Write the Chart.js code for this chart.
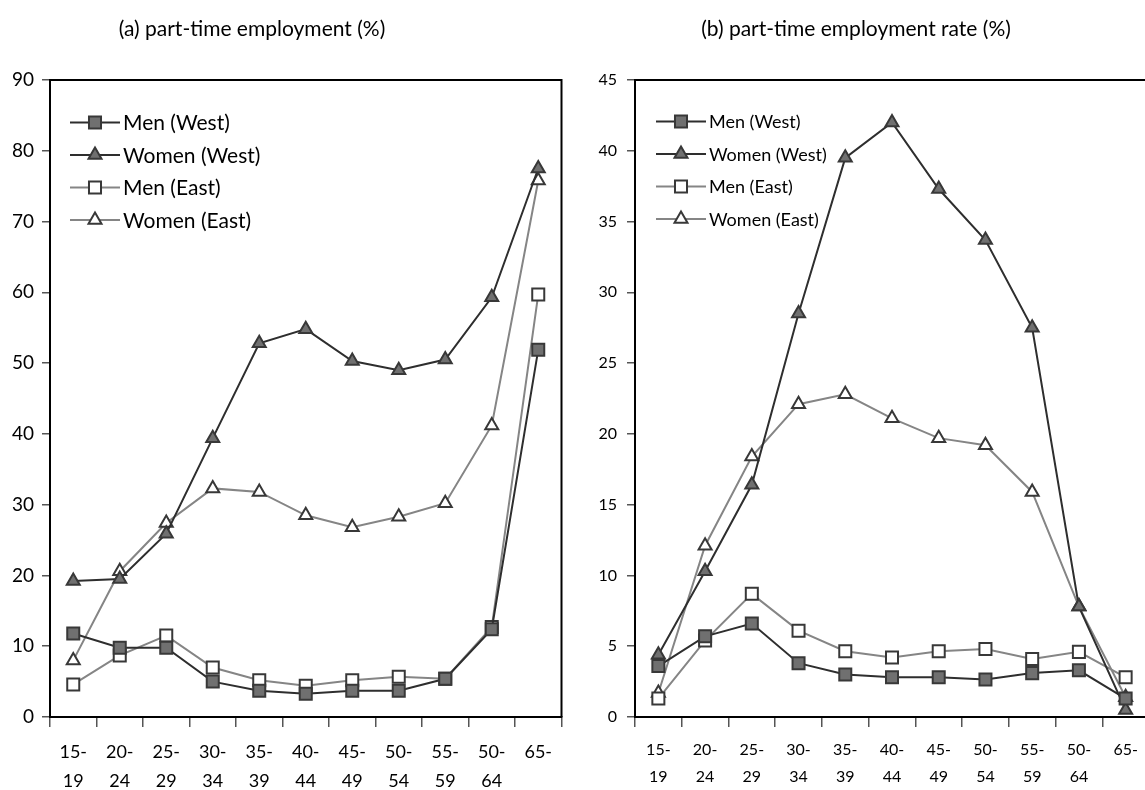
<!DOCTYPE html>
<html><head><meta charset="utf-8">
<script src="https://cdn.jsdelivr.net/npm/chart.js@4/dist/chart.umd.min.js"></script>
<style>
html,body{margin:0;padding:0;width:1145px;height:790px;overflow:hidden;background:#fff;}
#wrapA{position:absolute;left:0;top:0;width:572px;height:790px;}
#wrapB{position:absolute;left:572px;top:0;width:588px;height:790px;}
.title{position:absolute;top:15px;line-height:26px;font-family:Lato, sans-serif;color:#000;white-space:nowrap;transform:translateX(-50%);}
</style></head><body>
<div id="wrapA"><canvas id="cA" width="572" height="790"></canvas></div>
<div id="wrapB"><canvas id="cB" width="588" height="790"></canvas></div>
<div class="title" style="left:252px;font-size:21px">(a) part-time employment (%)</div>
<div class="title" style="left:856px;font-size:21px">(b) part-time employment rate (%)</div>
<script>
// ---- data ----
const ageGroups = [['15-','19'],['20-','24'],['25-','29'],['30-','34'],['35-','39'],['40-','44'],['45-','49'],['50-','54'],['55-','59'],['50-','64'],['65-']];
const seriesLabels = ['Men (West)','Women (West)','Men (East)','Women (East)'];

// (a) part-time employment (%)
const shareMenWest   = [11.8, 9.8, 9.8, 5.0, 3.7, 3.3, 3.7, 3.7, 5.4, 12.4, 51.9];
const shareWomenWest = [19.2, 19.5, 25.9, 39.4, 52.8, 54.8, 50.3, 49.0, 50.5, 59.3, 77.5];
const shareMenEast   = [4.6, 8.7, 11.5, 7.0, 5.2, 4.4, 5.2, 5.7, 5.4, 12.7, 59.7];
const shareWomenEast = [8.0, 20.6, 27.4, 32.3, 31.8, 28.5, 26.8, 28.3, 30.2, 41.2, 75.8];

// (b) part-time employment rate (%)
const rateMenWest   = [3.6, 5.7, 6.6, 3.8, 3.0, 2.8, 2.8, 2.65, 3.1, 3.3, 1.3];
const rateWomenWest = [4.4, 10.3, 16.4, 28.5, 39.5, 42.0, 37.3, 33.7, 27.5, 7.8, 0.5];
const rateMenEast   = [1.3, 5.4, 8.7, 6.1, 4.65, 4.2, 4.65, 4.8, 4.1, 4.6, 2.8];
const rateWomenEast = [1.7, 12.1, 18.4, 22.1, 22.8, 21.1, 19.7, 19.2, 15.9, 7.8, 1.4];

const yTicksA = {min:0, max:90, step:10};
const yTicksB = {min:0, max:45, step:5};

// ---- styles ----
const DARK = '#2e2e2e', GRAY = '#858585', FILL = '#707070', EDGE = '#383838';
const seriesStyle = [
  {line:DARK, style:'rect',     fill:FILL,   r:8.5},
  {line:DARK, style:'triangle', fill:FILL,   r:7.5},
  {line:GRAY, style:'rect',     fill:'#fff', r:8.5},
  {line:GRAY, style:'triangle', fill:'#fff', r:7.5}
];

function drawMarker(ctx, style, x, y, r, fill, stroke, bw){
  ctx.save();
  ctx.fillStyle = fill; ctx.strokeStyle = stroke; ctx.lineWidth = bw;
  ctx.beginPath();
  if (style === 'rect') {
    const s = r / Math.SQRT2;
    ctx.rect(x - s, y - s, 2*s, 2*s);
  } else {
    let a = 0;
    ctx.moveTo(x + Math.sin(a)*r, y - Math.cos(a)*r);
    a += 2*Math.PI/3; ctx.lineTo(x + Math.sin(a)*r, y - Math.cos(a)*r);
    a += 2*Math.PI/3; ctx.lineTo(x + Math.sin(a)*r, y - Math.cos(a)*r);
    ctx.closePath();
  }
  ctx.fill(); ctx.stroke();
  ctx.restore();
}

const framePlugin = {
  id:'frame',
  beforeDatasetsDraw(chart){
    const {ctx, chartArea:a} = chart;
    ctx.save(); ctx.strokeStyle='#000'; ctx.lineWidth=2;
    ctx.beginPath(); ctx.moveTo(a.left, a.top); ctx.lineTo(a.right, a.top); ctx.lineTo(a.right, a.bottom); ctx.stroke();
    ctx.restore();
  }
};

const insideLegend = {
  id:'insideLegend',
  afterDatasetsDraw(chart, args, o){
    const ctx = chart.ctx;
    chart.data.datasets.forEach((ds, i) => {
      const y = o.y + i*o.row, x = o.x;
      ctx.save();
      ctx.strokeStyle = ds.borderColor; ctx.lineWidth = ds.borderWidth;
      ctx.beginPath(); ctx.moveTo(x, y); ctx.lineTo(x + o.len, y); ctx.stroke();
      drawMarker(ctx, ds.pointStyle, x + o.len/2, y, ds.pointRadius, ds.pointBackgroundColor, ds.pointBorderColor, ds.pointBorderWidth);
      ctx.fillStyle = '#000'; ctx.font = o.fontSize + 'px Lato, sans-serif'; ctx.textBaseline = 'middle'; ctx.textAlign='left';
      ctx.fillText(ds.label, x + o.len + 3, y + 1);
      ctx.restore();
    });
  }
};

function makeChart(id, seriesData, yt, g){
  const datasets = seriesData.map((d, i) => ({
    label: seriesLabels[i],
    data: d,
    borderColor: seriesStyle[i].line,
    borderWidth: 2,
    pointStyle: seriesStyle[i].style,
    pointRadius: seriesStyle[i].r,
    pointHoverRadius: seriesStyle[i].r,
    pointBackgroundColor: seriesStyle[i].fill,
    pointBorderColor: EDGE,
    pointBorderWidth: 2,
    tension: 0,
    fill: false
  }));
  return new Chart(document.getElementById(id), {
    type:'line',
    data:{labels: ageGroups, datasets},
    plugins:[framePlugin, insideLegend],
    options:{
      responsive:false, animation:false, devicePixelRatio:1,
      layout:{padding:{left:0, right:g.padRight, top:80, bottom:0}},
      plugins:{
        legend:{display:false}, tooltip:{enabled:false}, title:{display:false},
        insideLegend:{x:g.legX, y:g.legY, row:g.legRow, len:50, fontSize:g.legFont}
      },
      scales:{
        x:{
          type:'category', offset:true,
          grid:{display:true, drawOnChartArea:false, drawTicks:true, tickLength:10, offset:true, color:'#555', lineWidth:1.5},
          border:{display:true, color:'#000', width:2},
          ticks:{autoSkip:false, maxRotation:0, minRotation:0, padding:10, color:'#000', font:{family:'Lato, sans-serif', size:g.tickFont, lineHeight:1.65}},
          afterFit(s){ s.height = 73; }
        },
        y:{
          min:yt.min, max:yt.max,
          grid:{display:true, drawOnChartArea:false, drawTicks:true, tickLength:8, color:'#555', lineWidth:1.5},
          border:{display:true, color:'#000', width:2},
          ticks:{stepSize:yt.step, padding:g.yPad, color:'#000', font:{family:'Lato, sans-serif', size:g.yFont}},
          afterFit(s){ s.width = g.yWidth; }
        }
      }
    }
  });
}

makeChart('cA', [shareMenWest, shareWomenWest, shareMenEast, shareWomenEast], yTicksA,
  {padRight:8, yWidth:50, yPad:8, tickFont:18, yFont:19, legX:70, legY:122.5, legRow:32.5, legFont:21});
makeChart('cB', [rateMenWest, rateWomenWest, rateMenEast, rateWomenEast], yTicksB,
  {padRight:11, yWidth:63, yPad:10, tickFont:16, yFont:16, legX:84, legY:121.5, legRow:32.5, legFont:18});
</script>
</body></html>
